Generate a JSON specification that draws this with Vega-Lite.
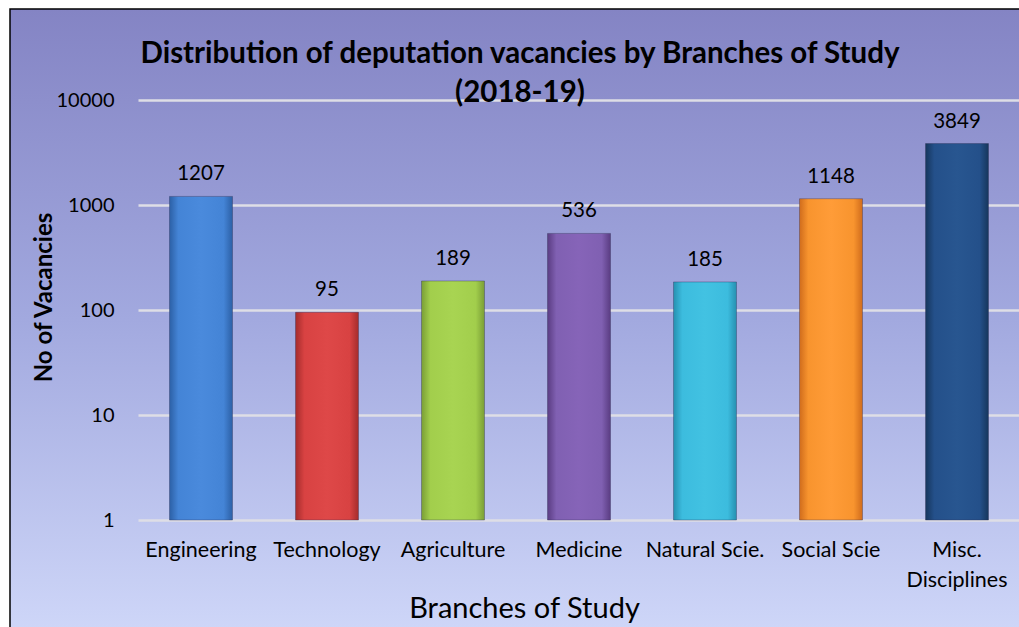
{
  "$schema": "https://vega.github.io/schema/vega-lite/v6.json",
  "autosize": "none",
  "padding": {"left": 10, "top": 9, "right": -3, "bottom": -3},
  "width": 1012,
  "height": 621,
  "background": "white",
  "config": {
    "font": "Lato",
    "view": {
      "stroke": "#000000",
      "strokeWidth": 1.5,
      "fill": {"gradient": "linear", "x1": 0, "y1": 0, "x2": 0, "y2": 1, "stops": [
        {"offset": 0, "color": "#8484C4"},
        {"offset": 0.5, "color": "#A2A9DF"},
        {"offset": 1, "color": "#CED6F8"}
      ]}
    },
    "title": {"baseline": "bottom"}
  },
  "title": {
    "text": ["Distribution of deputation vacancies by Branches of Study", "(2018-19)"],
    "anchor": "start",
    "frame": "group",
    "font": "Lato",
    "fontSize": 29.5,
    "fontWeight": "bold",
    "color": "#000000",
    "lineHeight": 39,
    "offset": -99,
    "align": "center",
    "dx": 510
  },
  "data": {
    "values": [
      {"branch": "Engineering", "vacancies": 1207},
      {"branch": "Technology", "vacancies": 95},
      {"branch": "Agriculture", "vacancies": 189},
      {"branch": "Medicine", "vacancies": 536},
      {"branch": "Natural Scie.", "vacancies": 185},
      {"branch": "Social Scie", "vacancies": 1148},
      {"branch": "Misc. Disciplines", "vacancies": 3849}
    ]
  },
  "encoding": {
    "x": {
      "field": "branch",
      "type": "nominal",
      "sort": null,
      "scale": {"domain": ["Engineering", "Technology", "Agriculture", "Medicine", "Natural Scie.", "Social Scie", "Misc. Disciplines"], "range": [128, 1010], "paddingInner": 0.5, "paddingOuter": 0.25},
      "axis": {
        "title": "Branches of Study",
        "titleFont": "Lato",
        "titleFontSize": 29,
        "titleFontWeight": "normal",
        "titleColor": "#000000",
        "titleX": 514,
        "titleY": 88,
        "titleAlign": "center",
        "titleBaseline": "middle",
        "offset": -110,
        "domain": false,
        "ticks": false,
        "grid": false,
        "labelAngle": 0,
        "labelFont": "Lato",
        "labelFontSize": 21.5,
        "labelColor": "#000000",
        "labelPadding": 19,
        "labelBaseline": "top",
        "labelLineHeight": 30,
        "labelExpr": "datum.label == 'Misc. Disciplines' ? ['Misc.', 'Disciplines'] : datum.label"
      }
    },
    "y": {
      "field": "vacancies",
      "type": "quantitative",
      "scale": {"type": "log", "domain": [1, 10000], "range": [511, 91], "nice": false},
      "axis": {
        "title": "No of Vacancies",
        "titleFont": "Lato",
        "titleFontSize": 24,
        "titleFontWeight": "bold",
        "titleColor": "#000000",
        "titleX": -94,
        "titleY": 288,
        "titleAlign": "center",
        "titleBaseline": "middle",
        "offset": -128,
        "values": [1, 10, 100, 1000, 10000],
        "format": "d",
        "domain": false,
        "ticks": false,
        "grid": true,
        "gridColor": "#DEDEE6",
        "gridWidth": 2.5,
        "labelFont": "Lato",
        "labelFontSize": 20,
        "labelColor": "#000000",
        "labelPadding": 24
      }
    }
  },
  "layer": [
    {
      "transform": [{"filter": "datum.branch == 'Engineering'"}],
      "mark": {"type": "bar", "stroke": "#2A2A50", "strokeOpacity": 0.35, "strokeWidth": 1,
        "fill": {"gradient": "linear", "x1": 0, "y1": 0, "x2": 1, "y2": 0, "stops": [{"offset": 0, "color": "#2C60A6"}, {"offset": 0.14, "color": "#4484D6"}, {"offset": 0.5, "color": "#4A8ADC"}, {"offset": 0.86, "color": "#4484D6"}, {"offset": 1, "color": "#2C60A6"}]}},
      "encoding": {"y2": {"datum": 1}}
    },
    {
      "transform": [{"filter": "datum.branch == 'Technology'"}],
      "mark": {"type": "bar", "stroke": "#2A2A50", "strokeOpacity": 0.35, "strokeWidth": 1,
        "fill": {"gradient": "linear", "x1": 0, "y1": 0, "x2": 1, "y2": 0, "stops": [{"offset": 0, "color": "#A42C2C"}, {"offset": 0.14, "color": "#D84242"}, {"offset": 0.5, "color": "#DE4848"}, {"offset": 0.86, "color": "#D84242"}, {"offset": 1, "color": "#A42C2C"}]}},
      "encoding": {"y2": {"datum": 1}}
    },
    {
      "transform": [{"filter": "datum.branch == 'Agriculture'"}],
      "mark": {"type": "bar", "stroke": "#2A2A50", "strokeOpacity": 0.35, "strokeWidth": 1,
        "fill": {"gradient": "linear", "x1": 0, "y1": 0, "x2": 1, "y2": 0, "stops": [{"offset": 0, "color": "#7A9E36"}, {"offset": 0.14, "color": "#A2CE4C"}, {"offset": 0.5, "color": "#A8D452"}, {"offset": 0.86, "color": "#A2CE4C"}, {"offset": 1, "color": "#7A9E36"}]}},
      "encoding": {"y2": {"datum": 1}}
    },
    {
      "transform": [{"filter": "datum.branch == 'Medicine'"}],
      "mark": {"type": "bar", "stroke": "#2A2A50", "strokeOpacity": 0.35, "strokeWidth": 1,
        "fill": {"gradient": "linear", "x1": 0, "y1": 0, "x2": 1, "y2": 0, "stops": [{"offset": 0, "color": "#5A3C82"}, {"offset": 0.14, "color": "#8060B2"}, {"offset": 0.5, "color": "#8664B8"}, {"offset": 0.86, "color": "#8060B2"}, {"offset": 1, "color": "#5A3C82"}]}},
      "encoding": {"y2": {"datum": 1}}
    },
    {
      "transform": [{"filter": "datum.branch == 'Natural Scie.'"}],
      "mark": {"type": "bar", "stroke": "#2A2A50", "strokeOpacity": 0.35, "strokeWidth": 1,
        "fill": {"gradient": "linear", "x1": 0, "y1": 0, "x2": 1, "y2": 0, "stops": [{"offset": 0, "color": "#2690B0"}, {"offset": 0.14, "color": "#3CBCDE"}, {"offset": 0.5, "color": "#42C2E2"}, {"offset": 0.86, "color": "#3CBCDE"}, {"offset": 1, "color": "#2690B0"}]}},
      "encoding": {"y2": {"datum": 1}}
    },
    {
      "transform": [{"filter": "datum.branch == 'Social Scie'"}],
      "mark": {"type": "bar", "stroke": "#2A2A50", "strokeOpacity": 0.35, "strokeWidth": 1,
        "fill": {"gradient": "linear", "x1": 0, "y1": 0, "x2": 1, "y2": 0, "stops": [{"offset": 0, "color": "#D06C1C"}, {"offset": 0.14, "color": "#F8942E"}, {"offset": 0.5, "color": "#FF9C38"}, {"offset": 0.86, "color": "#F8942E"}, {"offset": 1, "color": "#D06C1C"}]}},
      "encoding": {"y2": {"datum": 1}}
    },
    {
      "transform": [{"filter": "datum.branch == 'Misc. Disciplines'"}],
      "mark": {"type": "bar", "stroke": "#2A2A50", "strokeOpacity": 0.35, "strokeWidth": 1,
        "fill": {"gradient": "linear", "x1": 0, "y1": 0, "x2": 1, "y2": 0, "stops": [{"offset": 0, "color": "#16365C"}, {"offset": 0.14, "color": "#24508A"}, {"offset": 0.5, "color": "#285690"}, {"offset": 0.86, "color": "#24508A"}, {"offset": 1, "color": "#16365C"}]}},
      "encoding": {"y2": {"datum": 1}}
    },
    {
      "mark": {"type": "text", "baseline": "bottom", "dy": -12, "font": "Lato", "fontSize": 20.5, "color": "#000000"},
      "encoding": {
        "text": {"field": "vacancies", "type": "quantitative", "format": "d"}
      }
    }
  ]
}
